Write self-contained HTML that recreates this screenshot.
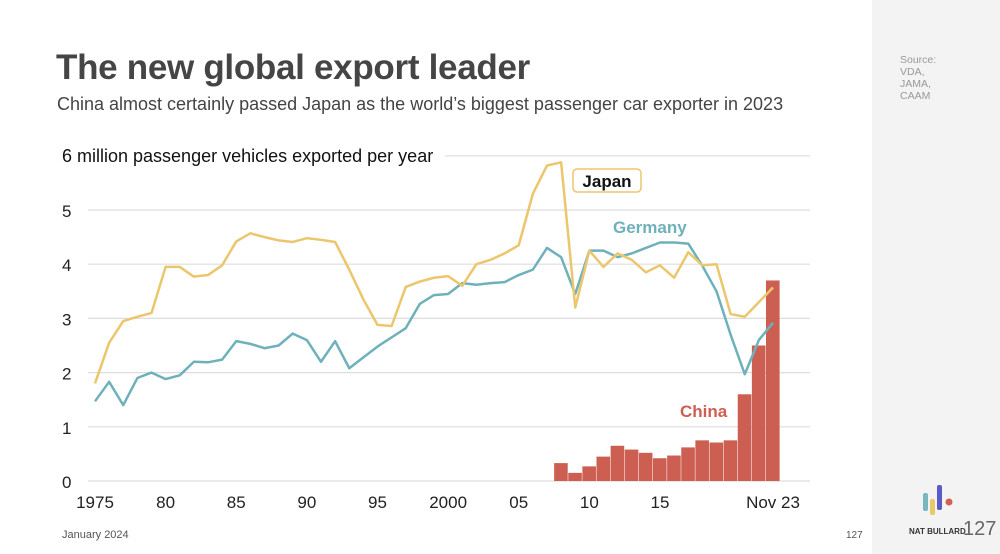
<!DOCTYPE html>
<html><head><meta charset="utf-8"><style>
body{margin:0;width:1000px;height:554px;overflow:hidden;background:#fff;font-family:"Liberation Sans",sans-serif;position:relative}
.side{position:absolute;left:872px;top:0;width:128px;height:554px;background:#f3f3f3}
</style></head><body>
<div class="side"></div>
<div style="position:absolute;left:900px;top:54px;font-size:10.5px;color:#999;line-height:12px">Source:<br>VDA,<br>JAMA,<br>CAAM</div>
<div style="position:absolute;left:56px;top:48px;font-size:35px;font-weight:bold;color:#454545;letter-spacing:-0.3px">The new global export leader</div>
<div style="position:absolute;left:57px;top:94px;font-size:18px;color:#444">China almost certainly passed Japan as the world’s biggest passenger car exporter in 2023</div>
<div style="position:absolute;left:62px;top:529px;font-size:11px;color:#555">January 2024</div>
<div style="position:absolute;left:846px;top:530px;font-size:10px;color:#555">127</div>
<svg style="position:absolute;left:918px;top:482px" width="40" height="40">
<rect x="5" y="11" width="5" height="18" rx="2" fill="#7ab8c0"/><rect x="12" y="17" width="5" height="16" rx="2" fill="#e8c96a"/><rect x="19" y="3" width="5" height="25" rx="2" fill="#5b5bc8"/><circle cx="31" cy="20" r="3.5" fill="#d0604f"/></svg>
<div style="position:absolute;left:909px;top:527px;font-size:8px;font-weight:bold;color:#333">NAT BULLARD</div>
<div style="position:absolute;left:963px;top:518px;font-size:20px;color:#666">127</div>
<svg id="chart" style="position:absolute;left:0;top:0" width="870" height="554"></svg>
<script>
const years=[];for(let y=1975;y<=2023;y++)years.push(y);
const japan=[1.8,2.55,2.95,3.03,3.1,3.95,3.95,3.77,3.8,3.98,4.42,4.57,4.5,4.44,4.41,4.48,4.45,4.41,3.9,3.35,2.88,2.86,3.58,3.68,3.75,3.78,3.6,4.0,4.08,4.2,4.35,5.3,5.82,5.88,3.2,4.25,3.95,4.2,4.08,3.85,3.98,3.75,4.22,3.98,4.0,3.08,3.03,3.3,3.57];
const germany=[1.47,1.83,1.4,1.9,2.0,1.88,1.95,2.2,2.19,2.24,2.58,2.53,2.45,2.5,2.72,2.6,2.2,2.58,2.08,2.28,2.48,2.65,2.82,3.27,3.43,3.45,3.65,3.62,3.65,3.67,3.8,3.9,4.3,4.13,3.45,4.25,4.25,4.13,4.2,4.3,4.4,4.4,4.38,3.97,3.5,2.7,1.97,2.6,2.92];
const chinaYears=[2008,2009,2010,2011,2012,2013,2014,2015,2016,2017,2018,2019,2020,2021,2022,2023];
const china=[0.33,0.15,0.27,0.45,0.65,0.58,0.52,0.42,0.47,0.62,0.75,0.71,0.75,1.6,2.5,3.7];
const yTicks=[0,1,2,3,4,5];
const xTickYears=[1975,1980,1985,1990,1995,2000,2005,2010,2015,2023];
const xTickLabels=["1975","80","85","90","95","2000","05","10","15","Nov 23"];
const X=y=>95+(y-1975)*14.125, Y=v=>481-v*54.2;
const svg=document.getElementById('chart');const NS='http://www.w3.org/2000/svg';
function mk(t,a,p){const e=document.createElementNS(NS,t);for(const k in a)e.setAttribute(k,a[k]);(p||svg).appendChild(e);return e;}
const grid=mk('g',{});
yTicks.forEach(v=>{mk('line',{x1:88,x2:810,y1:Y(v),y2:Y(v),stroke:'#ddd','stroke-width':1.2},grid);
const t=mk('text',{x:62,y:Y(v)+7,'font-size':17,fill:'#222'});t.textContent=v;
});
mk('line',{x1:445,x2:810,y1:Y(6),y2:Y(6),stroke:'#ddd','stroke-width':1.2},grid);
const yl=mk('text',{x:62,y:162,'font-size':18,fill:'#111'});yl.textContent='6 million passenger vehicles exported per year';

xTickYears.forEach((y,i)=>{const t=mk('text',{x:X(y),y:508,'font-size':17,fill:'#222','text-anchor':'middle'});t.textContent=xTickLabels[i];
});
const bars=mk('g',{});
chinaYears.forEach((y,i)=>{const r=mk('rect',{x:X(y)-7,y:Y(china[i]),width:13.6,height:china[i]*54.2,fill:'#cd5f52'},bars);
});
function line(vals,col,name){const p=mk('polyline',{points:vals.map((v,i)=>X(years[i])+','+Y(v)).join(' '),fill:'none',stroke:col,'stroke-width':2.5,'stroke-linejoin':'round'});
}
line(germany,'#6fb1ba','germany-line');line(japan,'#ebc66c','japan-line');
const jb=mk('rect',{x:573,y:169,width:68,height:23,rx:4,fill:'#fff',stroke:'#ebc66c','stroke-width':1.5});

const jt=mk('text',{x:607,y:187,'font-size':17,'font-weight':'bold','text-anchor':'middle',fill:'#111'});jt.textContent='Japan';

const gt=mk('text',{x:613,y:233,'font-size':17,'font-weight':'bold',fill:'#6fb1ba'});gt.textContent='Germany';

const ct=mk('text',{x:680,y:417,'font-size':17,'font-weight':'bold',fill:'#cd5f52'});ct.textContent='China';

</script>
</body></html>
